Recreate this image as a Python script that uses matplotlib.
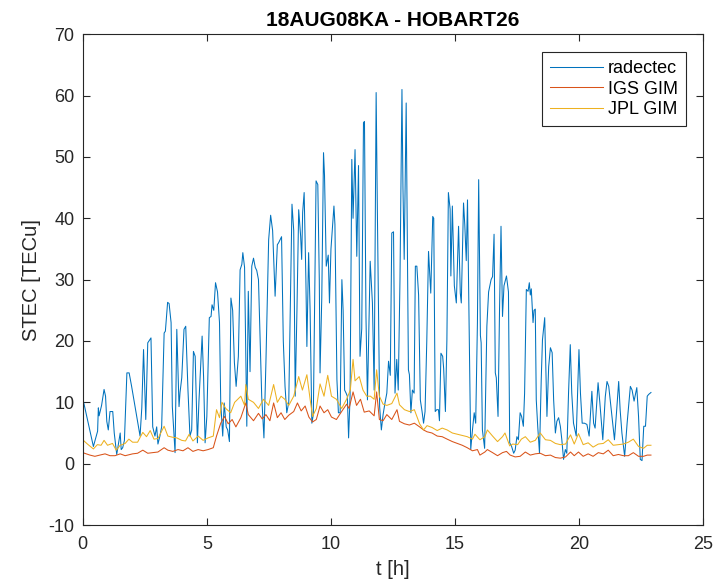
import numpy as np
import matplotlib
matplotlib.use("Agg")
import matplotlib.pyplot as plt

plt.rcParams['font.family'] = ['Liberation Sans', 'DejaVu Sans']
plt.rcParams['axes.unicode_minus'] = False

# radectec STEC along the line of sight
t_rad = [0.00, 0.43, 0.60, 0.63, 0.66, 0.76, 0.86, 0.92, 0.97, 1.03, 1.10, 1.21, 1.27, 1.37, 1.44,
         1.51, 1.55, 1.61, 1.68, 1.78, 1.87, 1.97, 2.31, 2.38, 2.45, 2.54, 2.62, 2.75, 2.82, 2.91,
         2.98, 3.03, 3.11, 3.18, 3.28, 3.33, 3.42, 3.48, 3.56, 3.61, 3.72, 3.79, 3.88, 3.92, 3.99,
         4.08, 4.15, 4.24, 4.32, 4.39, 4.46, 4.53, 4.62, 4.68, 4.81, 4.87, 4.93, 5.00, 5.10, 5.17,
         5.21, 5.28, 5.35, 5.43, 5.51, 5.56, 5.64, 5.70, 5.78, 5.84, 5.91, 5.97, 6.04, 6.11, 6.18,
         6.27, 6.34, 6.41, 6.45, 6.52, 6.61, 6.67, 6.74, 6.81, 6.88, 6.95, 7.01, 7.08, 7.21, 7.30,
         7.38, 7.49, 7.57, 7.65, 7.75, 7.84, 7.89, 7.95, 8.01, 8.08, 8.15, 8.22, 8.30, 8.43, 8.50,
         8.56, 8.63, 8.70, 8.78, 8.82, 8.86, 8.92, 8.99, 9.03, 9.10, 9.16, 9.23, 9.29, 9.40, 9.47,
         9.53, 9.56, 9.63, 9.70, 9.74, 9.81, 9.89, 9.94, 10.00, 10.12, 10.16, 10.24, 10.30, 10.37, 10.44,
         10.49, 10.55, 10.61, 10.66, 10.71, 10.77, 10.84, 10.89, 10.97, 11.04, 11.11, 11.17, 11.24, 11.31, 11.35,
         11.41, 11.47, 11.58, 11.67, 11.74, 11.82, 11.87, 11.96, 12.03, 12.10, 12.18, 12.25, 12.32, 12.39, 12.45,
         12.52, 12.58, 12.65, 12.71, 12.78, 12.86, 12.90, 12.95, 13.03, 13.08, 13.12, 13.16, 13.22, 13.28, 13.35,
         13.40, 13.46, 13.53, 13.60, 13.67, 13.73, 13.79, 13.86, 13.93, 14.02, 14.10, 14.14, 14.20, 14.26, 14.33,
         14.37, 14.43, 14.50, 14.54, 14.61, 14.67, 14.73, 14.80, 14.83, 14.89, 14.97, 15.05, 15.14, 15.21, 15.25,
         15.34, 15.39, 15.45, 15.50, 15.57, 15.63, 15.70, 15.77, 15.83, 15.90, 15.95, 16.02, 16.05, 16.10, 16.19,
         16.28, 16.35, 16.45, 16.51, 16.57, 16.62, 16.66, 16.73, 16.79, 16.85, 16.91, 16.97, 17.07, 17.15, 17.20,
         17.27, 17.36, 17.42, 17.49, 17.55, 17.62, 17.68, 17.75, 17.80, 17.87, 17.94, 17.99, 18.03, 18.07, 18.14,
         18.18, 18.23, 18.27, 18.33, 18.40, 18.47, 18.52, 18.61, 18.70, 18.77, 18.84, 18.91, 18.97, 19.04, 19.10,
         19.17, 19.24, 19.30, 19.37, 19.44, 19.50, 19.57, 19.64, 19.70, 19.77, 19.88, 19.99, 20.05, 20.12, 20.21,
         20.31, 20.40, 20.51, 20.58, 20.64, 20.76, 20.83, 20.95, 21.05, 21.12, 21.19, 21.32, 21.42, 21.50, 21.59,
         21.65, 21.72, 21.83, 21.93, 22.06, 22.13, 22.21, 22.32, 22.39, 22.46, 22.53, 22.60, 22.67, 22.74, 22.80,
         22.89]
stec_rad = [10.7, 2.8, 5.3, 9.1, 7.8, 9.5, 12.1, 11.0, 6.9, 5.5, 8.5, 8.5, 5.0, 1.5, 3.2,
            5.0, 2.3, 2.6, 3.8, 14.8, 14.8, 12.6, 4.5, 9.1, 18.6, 7.2, 19.7, 20.5, 6.0, 4.5,
            6.0, 3.2, 4.5, 6.0, 21.3, 21.6, 26.3, 26.1, 23.0, 9.3, 1.8, 21.9, 9.3, 11.6, 14.0,
            21.9, 22.4, 12.0, 4.5, 5.5, 18.3, 17.5, 3.4, 10.0, 20.8, 14.0, 3.4, 7.7, 23.8, 24.0,
            25.9, 25.0, 29.5, 28.0, 23.0, 9.9, 4.5, 9.9, 6.0, 5.5, 3.6, 27.0, 25.0, 16.5, 12.6,
            17.5, 31.6, 32.5, 34.4, 32.0, 6.1, 28.1, 15.0, 32.2, 33.5, 32.0, 31.5, 30.0, 11.0, 4.2,
            16.5, 36.5, 40.5, 38.0, 27.3, 35.7, 36.0, 36.5, 37.0, 20.0, 12.6, 8.3, 10.0, 42.3, 38.0,
            11.0, 25.0, 41.4, 37.0, 33.3, 41.0, 44.2, 30.0, 19.1, 34.4, 25.0, 6.6, 8.0, 46.1, 45.5,
            30.0, 14.8, 27.0, 50.7, 47.0, 32.2, 34.0, 26.2, 35.0, 42.0, 39.0, 13.7, 8.3, 8.3, 30.0,
            25.0, 12.0, 11.5, 11.0, 4.2, 11.0, 49.6, 40.0, 51.2, 33.8, 48.6, 17.5, 22.0, 55.6, 55.8,
            24.0, 10.4, 33.0, 26.2, 12.0, 60.5, 41.0, 9.3, 5.5, 8.0, 10.0, 11.5, 16.7, 14.4, 37.6,
            37.8, 11.5, 17.0, 12.0, 30.0, 61.0, 45.0, 33.3, 58.8, 35.0, 15.3, 14.5, 8.3, 12.0, 11.5,
            32.2, 32.2, 27.5, 10.4, 8.5, 6.6, 8.5, 20.0, 34.6, 27.8, 40.3, 40.0, 8.5, 8.8, 8.8,
            7.0, 18.0, 17.5, 15.5, 8.5, 20.2, 44.2, 41.5, 30.6, 42.0, 29.0, 26.2, 38.7, 27.8, 26.2,
            42.5, 39.0, 33.1, 43.0, 21.0, 2.3, 5.5, 8.3, 6.6, 23.0, 46.3, 20.9, 19.7, 5.5, 2.5,
            22.4, 28.0, 30.0, 30.5, 37.4, 14.8, 14.0, 7.7, 25.0, 38.7, 24.0, 29.0, 30.6, 28.0, 3.4,
            2.9, 1.7, 2.2, 4.4, 3.9, 8.3, 7.7, 6.1, 11.5, 28.4, 28.1, 29.5, 27.5, 28.5, 23.0,
            25.0, 25.2, 10.4, 6.0, 1.7, 13.7, 20.2, 23.8, 7.7, 15.8, 18.9, 18.1, 10.4, 5.0, 6.9,
            7.5, 6.1, 3.9, 0.7, 2.3, 1.7, 11.5, 19.4, 11.5, 6.6, 4.5, 18.6, 11.5, 6.6, 6.6,
            6.4, 4.5, 11.8, 6.6, 5.8, 13.2, 10.0, 3.9, 10.9, 13.4, 12.6, 7.7, 3.9, 8.2, 13.4,
            8.7, 5.0, 1.2, 6.6, 12.6, 12.0, 10.2, 12.4, 7.7, 0.7, 0.5, 6.1, 6.1, 11.0, 11.3,
            11.6]

# IGS global ionosphere map along the same line of sight
t_igs = [0.00, 0.29, 0.49, 0.69, 0.90, 1.10, 1.30, 1.51, 1.71, 2.01, 2.21, 2.42, 2.62, 2.82, 3.03,
         3.28, 3.43, 3.63, 3.84, 4.04, 4.24, 4.44, 4.65, 4.85, 5.05, 5.26, 5.39, 5.56, 5.71, 5.86,
         6.02, 6.17, 6.37, 6.57, 6.67, 6.88, 7.08, 7.23, 7.38, 7.54, 7.69, 7.84, 7.99, 8.14, 8.30,
         8.50, 8.65, 8.80, 8.96, 9.11, 9.26, 9.41, 9.56, 9.72, 9.87, 10.02, 10.22, 10.43, 10.63, 10.73,
         10.89, 11.03, 11.19, 11.34, 11.54, 11.74, 11.84, 11.95, 12.10, 12.25, 12.45, 12.66, 12.76, 12.96, 13.16,
         13.36, 13.57, 13.73, 13.87, 14.07, 14.28, 14.48, 14.68, 14.89, 15.09, 15.29, 15.49, 15.70, 15.90, 16.00,
         16.20, 16.30, 16.51, 16.71, 16.91, 17.07, 17.22, 17.42, 17.62, 17.83, 18.03, 18.23, 18.43, 18.64, 18.84,
         19.04, 19.24, 19.45, 19.65, 19.80, 19.97, 20.16, 20.36, 20.56, 20.77, 20.97, 21.17, 21.37, 21.58, 21.78,
         21.98, 22.18, 22.39, 22.59, 22.74, 22.89]
stec_igs = [1.8, 1.4, 1.2, 1.4, 1.6, 1.3, 1.3, 1.6, 1.3, 1.6, 1.7, 2.2, 1.7, 1.8, 1.9,
            2.6, 2.2, 2.0, 2.3, 2.1, 2.6, 2.0, 2.3, 2.1, 2.3, 2.6, 4.5, 6.6, 7.7, 6.5,
            7.2, 6.0, 7.5, 9.9, 8.0, 7.0, 8.2, 7.3, 8.0, 7.0, 9.9, 7.5, 8.3, 7.2, 7.9,
            8.5, 9.9, 8.6, 9.4, 7.6, 6.8, 7.2, 9.4, 8.3, 8.8, 7.6, 7.2, 8.5, 9.7, 9.0,
            11.7, 9.5, 10.5, 8.4, 8.6, 7.8, 11.7, 7.2, 7.0, 8.0, 7.2, 8.8, 6.9, 6.5, 6.3,
            6.6, 6.0, 5.5, 5.2, 5.0, 4.5, 4.4, 4.0, 3.6, 3.3, 3.0, 2.6, 2.1, 2.3, 1.4,
            1.9, 2.3, 1.8, 1.3, 1.8, 2.0, 1.4, 1.1, 1.2, 1.9, 1.4, 1.6, 1.7, 1.3, 1.4,
            1.0, 0.9, 1.1, 1.9, 1.3, 1.9, 1.2, 1.6, 1.2, 1.8, 1.6, 2.2, 1.3, 1.5, 1.3,
            1.3, 1.8, 1.2, 1.2, 1.4, 1.4]

# JPL global ionosphere map along the same line of sight
t_jpl = [0.00, 0.19, 0.43, 0.59, 0.74, 0.86, 1.00, 1.20, 1.35, 1.51, 1.71, 1.86, 2.01, 2.21, 2.42,
         2.57, 2.72, 2.87, 3.03, 3.28, 3.43, 3.63, 3.79, 3.99, 4.14, 4.29, 4.44, 4.65, 4.85, 5.05,
         5.26, 5.39, 5.51, 5.61, 5.76, 5.96, 6.12, 6.37, 6.52, 6.57, 6.67, 6.88, 7.08, 7.28, 7.49,
         7.69, 7.84, 7.99, 8.14, 8.30, 8.50, 8.70, 8.85, 9.03, 9.16, 9.26, 9.41, 9.56, 9.72, 9.87,
         10.02, 10.22, 10.43, 10.63, 10.78, 10.89, 10.97, 11.14, 11.29, 11.44, 11.59, 11.74, 11.84, 11.95, 12.10,
         12.25, 12.45, 12.66, 12.76, 12.96, 13.16, 13.36, 13.57, 13.73, 13.87, 14.07, 14.28, 14.48, 14.68, 14.89,
         15.09, 15.29, 15.49, 15.70, 15.80, 16.00, 16.20, 16.30, 16.51, 16.71, 16.91, 17.01, 17.20, 17.32, 17.52,
         17.67, 17.83, 18.03, 18.23, 18.43, 18.64, 18.84, 19.04, 19.24, 19.45, 19.65, 19.80, 19.97, 20.16, 20.36,
         20.56, 20.77, 20.97, 21.17, 21.37, 21.58, 21.78, 21.98, 22.18, 22.39, 22.59, 22.74, 22.89]
stec_jpl = [3.9, 3.2, 2.4, 3.1, 3.0, 3.8, 3.0, 3.3, 2.2, 3.0, 3.3, 4.0, 3.5, 3.5, 5.1,
            4.4, 5.4, 4.0, 4.1, 6.1, 4.5, 4.3, 4.2, 3.8, 3.7, 4.8, 3.7, 4.5, 3.8, 4.2,
            4.5, 8.8, 7.5, 10.0, 9.0, 8.3, 10.0, 11.0, 9.5, 12.9, 10.5, 10.0, 9.0, 10.5, 9.5,
            12.9, 10.0, 11.0, 10.5, 9.5, 11.0, 14.2, 12.0, 14.5, 10.5, 7.7, 9.0, 13.0, 11.0, 14.4,
            11.0, 10.5, 9.0, 10.5, 12.0, 17.0, 13.5, 14.2, 12.0, 11.0, 11.0, 10.5, 15.3, 11.0, 9.7,
            9.5, 9.8, 11.5, 9.6, 8.8, 8.5, 8.8, 6.5, 5.5, 6.2, 5.9, 5.4, 5.8, 5.5, 5.0,
            4.8, 4.6, 4.4, 4.0, 4.8, 3.9, 4.4, 5.5, 4.5, 3.6, 4.4, 5.0, 2.9, 3.2, 3.1,
            4.0, 4.4, 3.5, 3.8, 5.0, 3.9, 3.8, 3.3, 3.1, 3.2, 4.7, 3.2, 4.9, 3.1, 3.4,
            2.7, 3.2, 3.3, 3.9, 3.0, 3.1, 3.2, 3.5, 4.0, 2.8, 2.5, 3.0, 3.0]

x_ticks = [0, 5, 10, 15, 20, 25]
y_ticks = [-10, 0, 10, 20, 30, 40, 50, 60, 70]

fig = plt.figure(figsize=(7.23, 5.84), dpi=100)
ax = fig.add_axes([0.1144, 0.1010, 0.8584, 0.8403])

ax.plot(t_rad, stec_rad, color='#0072BD', lw=0.75, label='radectec')
ax.plot(t_igs, stec_igs, color='#D95319', lw=0.75, label='IGS GIM')
ax.plot(t_jpl, stec_jpl, color='#EDB120', lw=0.75, label='JPL GIM')

ax.set_xlim(0, 25)
ax.set_ylim(-10, 70)
ax.set_xticks(x_ticks)
ax.set_yticks(y_ticks)

axcol = '#262626'
for s in ax.spines.values():
    s.set_color(axcol)
    s.set_linewidth(0.8)
ax.tick_params(direction='in', length=5, width=0.8, colors=axcol,
               top=True, right=True, labelsize=13)
ax.tick_params(axis='x', pad=8)
ax.tick_params(axis='y', pad=6)

ax.set_xlabel('t [h]', fontsize=14.5, color=axcol, labelpad=5)
ax.set_ylabel('STEC [TECu]', fontsize=14.5, color=axcol, labelpad=5)
ax.set_title('18AUG08KA - HOBART26', fontsize=15, fontweight='bold', color='#000000', pad=6)

leg = ax.legend(loc='upper right', bbox_to_anchor=(0.9726, 0.964), borderaxespad=0,
                fontsize=13, handlelength=2.9, handletextpad=0.3, borderpad=0.45,
                labelspacing=0.2, fancybox=False, framealpha=1, edgecolor=axcol)
leg.get_frame().set_linewidth(0.8)

fig.savefig('out.png', dpi=100)
